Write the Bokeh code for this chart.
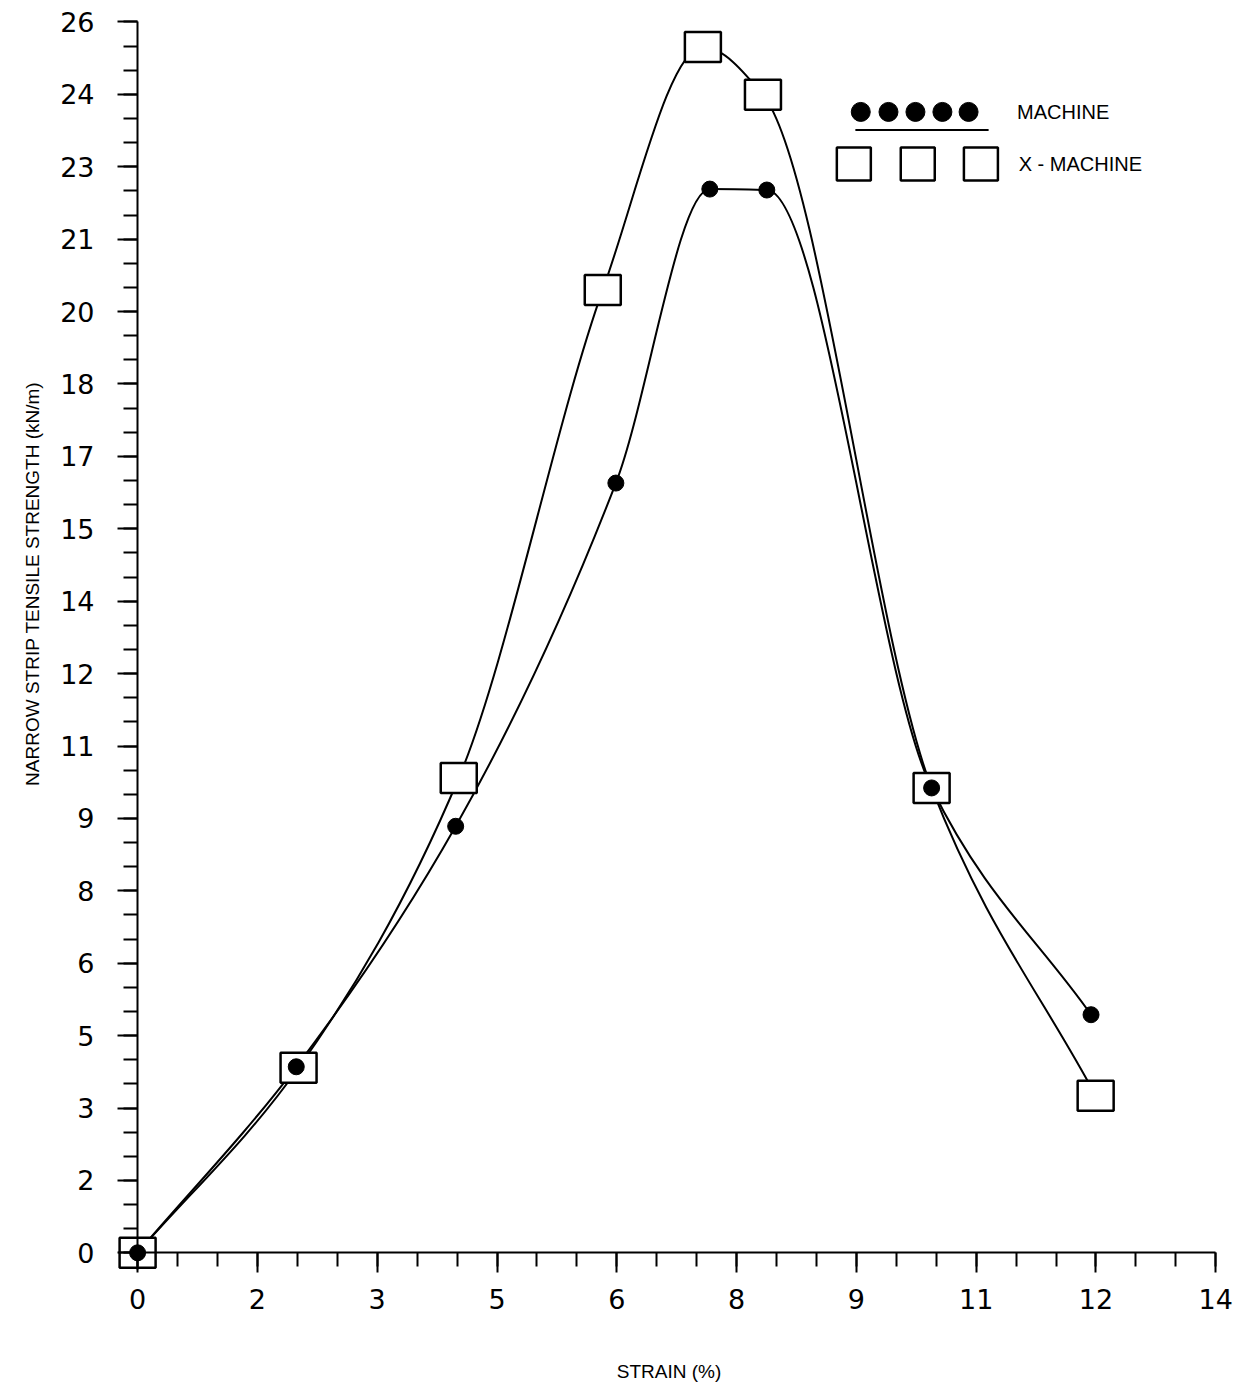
from bokeh.plotting import figure
from bokeh.models import (Range1d, FixedTicker, CustomJSTickFormatter, Label, LinearAxis,
                          CustomLabelingPolicy)
from bokeh.embed import file_html
from bokeh.resources import INLINE

# ---------------- data ----------------
MACHINE_STRAIN = [0.0, 2.06, 4.13, 6.21, 7.43, 8.17, 10.31, 12.38]
MACHINE_STRENGTH = [0.0, 3.93, 9.01, 16.26, 22.47, 22.45, 9.82, 5.03]

XMACHINE_STRAIN = [0.0, 2.09, 4.17, 6.04, 7.34, 8.12, 10.31, 12.44]
XMACHINE_STRENGTH = [0.0, 3.91, 10.03, 20.34, 25.47, 24.46, 9.82, 3.32]

X_TICK_LABELS = ["0", "2", "3", "5", "6", "8", "9", "11", "12", "14"]
Y_TICK_LABELS = ["0", "2", "3", "5", "6", "8", "9", "11", "12", "14",
                 "15", "17", "18", "20", "21", "23", "24", "26"]
X_MAX = 14.0
Y_MAX = 26.0

X_TITLE = "STRAIN (%)"
Y_TITLE = "NARROW STRIP TENSILE STRENGTH (kN/m)"

# ---------------- layout constants ----------------
LEG_DOT_X = [9.39, 9.75, 10.10, 10.45, 10.79]
LEG_DOT_Y = 24.10
LEG_RULE_X = [9.32, 11.05]
LEG_RULE_Y = 23.72
LEG_SQ_X = [9.30, 10.13, 10.95]
LEG_SQ_Y = 23.0
Y_TITLE_SHIFT = "\u00a0" * 23   # moves the vertical title up along the axis

p = figure(width=1244, height=1384,
           x_range=Range1d(-0.3, 14.1), y_range=Range1d(-0.5, 26.2),
           output_backend="svg", toolbar_location=None, title=None,
           min_border_left=114, min_border_right=21,
           min_border_top=12, min_border_bottom=107)
p.grid.visible = False
p.outline_line_color = None
p.background_fill_color = "white"
p.border_fill_color = "white"

# ticks
x_step = X_MAX / (len(X_TICK_LABELS) - 1)
y_step = Y_MAX / (len(Y_TICK_LABELS) - 1)
x_major = [i * x_step for i in range(len(X_TICK_LABELS))]
y_major = [i * y_step for i in range(len(Y_TICK_LABELS))]
x_minor = [i * x_step / 3 for i in range(3 * (len(X_TICK_LABELS) - 1) + 1)]
y_minor = [i * y_step / 3 for i in range(3 * (len(Y_TICK_LABELS) - 1) + 1)]
x_ticker = FixedTicker(ticks=x_major, minor_ticks=x_minor)
y_ticker = FixedTicker(ticks=y_major, minor_ticks=y_minor)
x_fmt = CustomJSTickFormatter(args=dict(labels=X_TICK_LABELS, step=x_step),
                              code="return labels[Math.round(tick/step)];")
y_fmt = CustomJSTickFormatter(args=dict(labels=Y_TICK_LABELS, step=y_step),
                              code="return labels[Math.round(tick/step)];")
no_labels = CustomLabelingPolicy(code="""
for (const i of Array.from(indices)) { indices.unset(i) }
return indices
""")

# axis lines crossing at the origin (labels are drawn by the outer axes)
p.xaxis.ticker = x_ticker
p.yaxis.ticker = y_ticker
for ax in (p.xaxis, p.yaxis):
    ax.fixed_location = 0
    ax.axis_line_color = "black"
    ax.axis_line_width = 2
    ax.major_tick_line_color = "black"
    ax.major_tick_line_width = 2
    ax.minor_tick_line_color = "black"
    ax.minor_tick_line_width = 2
    ax.major_tick_in = 0
    ax.minor_tick_in = 0
    ax.major_tick_out = 20
    ax.minor_tick_out = 14
    ax.major_label_policy = no_labels
p.xaxis.bounds = (-0.25, X_MAX)
p.yaxis.bounds = (-0.35, Y_MAX)

# label axes in the side panels
x_lab = LinearAxis(ticker=x_ticker, formatter=x_fmt, axis_label=X_TITLE)
y_lab = LinearAxis(ticker=y_ticker, formatter=y_fmt, axis_label=Y_TITLE_SHIFT + Y_TITLE)
for ax in (x_lab, y_lab):
    ax.axis_line_color = None
    ax.major_tick_line_color = None
    ax.minor_tick_line_color = None
    ax.major_tick_out = 0
    ax.major_tick_in = 0
    ax.minor_tick_out = 0
    ax.minor_tick_in = 0
    ax.major_label_text_font = "DejaVu Sans"
    ax.major_label_text_font_size = "27px"
    ax.major_label_text_color = "black"
    ax.axis_label_text_font = "Liberation Sans"
    ax.axis_label_text_font_size = "19px"
    ax.axis_label_text_font_style = "normal"
    ax.axis_label_text_color = "black"
x_lab.major_label_standoff = 12
x_lab.axis_label_standoff = 49
y_lab.major_label_standoff = 20
y_lab.axis_label_standoff = 14
p.add_layout(x_lab, "below")
p.add_layout(y_lab, "left")


# smooth monotone curves (PCHIP -> Bezier) through the data points
def pchip_segments(xs, ys):
    n = len(xs)
    h = [xs[i + 1] - xs[i] for i in range(n - 1)]
    d = [(ys[i + 1] - ys[i]) / h[i] for i in range(n - 1)]
    m = [0.0] * n
    m[0], m[-1] = d[0], d[-1]
    for k in range(1, n - 1):
        if d[k - 1] * d[k] <= 0:
            m[k] = 0.0
        else:
            w1 = 2 * h[k] + h[k - 1]
            w2 = h[k] + 2 * h[k - 1]
            m[k] = (w1 + w2) / (w1 / d[k - 1] + w2 / d[k])
    seg = dict(x0=[], y0=[], x1=[], y1=[], cx0=[], cy0=[], cx1=[], cy1=[])
    for i in range(n - 1):
        seg["x0"].append(xs[i]); seg["y0"].append(ys[i])
        seg["x1"].append(xs[i + 1]); seg["y1"].append(ys[i + 1])
        seg["cx0"].append(xs[i] + h[i] / 3); seg["cy0"].append(ys[i] + m[i] * h[i] / 3)
        seg["cx1"].append(xs[i + 1] - h[i] / 3); seg["cy1"].append(ys[i + 1] - m[i + 1] * h[i] / 3)
    return seg


for xs, ys in ((XMACHINE_STRAIN, XMACHINE_STRENGTH), (MACHINE_STRAIN, MACHINE_STRENGTH)):
    s = pchip_segments(xs, ys)
    p.bezier(x0=s["x0"], y0=s["y0"], x1=s["x1"], y1=s["y1"],
             cx0=s["cx0"], cy0=s["cy0"], cx1=s["cx1"], cy1=s["cy1"],
             line_color="black", line_width=2)

# markers
p.rect(x=XMACHINE_STRAIN, y=XMACHINE_STRENGTH, width=36, height=30,
       width_units="screen", height_units="screen",
       fill_color="white", line_color="black", line_width=2.5)
p.scatter(x=MACHINE_STRAIN, y=MACHINE_STRENGTH, size=16, marker="circle",
          fill_color="black", line_color="black")

# hand-drawn style legend
p.scatter(x=LEG_DOT_X, y=[LEG_DOT_Y] * len(LEG_DOT_X), size=19, marker="circle",
          fill_color="black", line_color="black")
p.line(x=LEG_RULE_X, y=[LEG_RULE_Y] * 2, line_color="black", line_width=2)
p.rect(x=LEG_SQ_X, y=[LEG_SQ_Y] * len(LEG_SQ_X), width=34, height=33,
       width_units="screen", height_units="screen",
       fill_color="white", line_color="black", line_width=2.5)
p.add_layout(Label(x=11.42, y=LEG_DOT_Y, text="MACHINE", text_font="Liberation Sans",
                   text_font_size="20px", text_baseline="middle", text_align="left",
                   text_color="black"))
p.add_layout(Label(x=11.44, y=LEG_SQ_Y, text="X - MACHINE", text_font="Liberation Sans",
                   text_font_size="20px", text_baseline="middle", text_align="left",
                   text_color="black"))

open("out.html", "w").write(file_html(p, INLINE))
